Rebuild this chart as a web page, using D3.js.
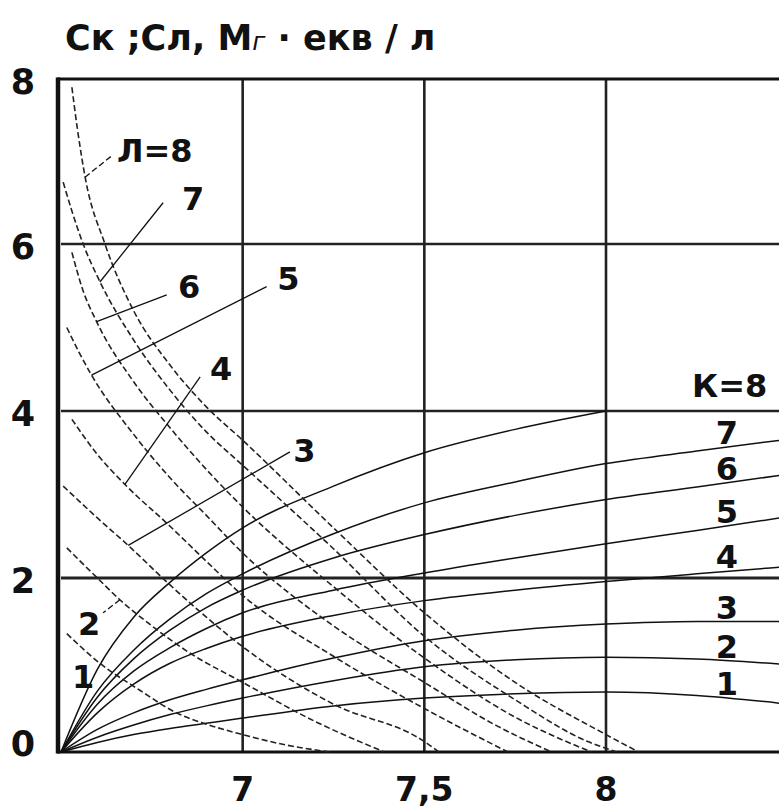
<!DOCTYPE html>
<html><head><meta charset="utf-8">
<script src="https://cdn.jsdelivr.net/npm/d3@7"></script>
<style>body{margin:0;background:#fff}svg{display:block}</style>
</head><body>
<svg id="c" width="779" height="810"></svg>
<script>
// ---- data ----
const xGridValues = [7, 7.5, 8];
const xTickLabels = ["7", "7,5", "8"];
const yGridValues = [2, 4, 6];
const yTickValues = [0, 2, 4, 6, 8];
const yTickLabels = ["0", "2", "4", "6", "8"];

// solid curves K (Ск), common pH points
const kX  = [6.5, 6.6, 6.7, 6.8, 6.9, 7.0, 7.25, 7.5, 7.75, 8.0, 8.25, 8.48];
const k1  = [0, 0.11, 0.20, 0.27, 0.33, 0.39, 0.53, 0.62, 0.67, 0.69, 0.65, 0.56];
const k2  = [0, 0.17, 0.31, 0.43, 0.53, 0.62, 0.82, 0.98, 1.06, 1.09, 1.07, 1.01];
const k3  = [0, 0.26, 0.45, 0.60, 0.72, 0.83, 1.08, 1.28, 1.40, 1.47, 1.50, 1.50];
const k4  = [0, 0.45, 0.78, 1.02, 1.19, 1.33, 1.57, 1.74, 1.86, 1.96, 2.05, 2.13];
const k5  = [0, 0.55, 0.93, 1.20, 1.42, 1.60, 1.86, 2.06, 2.24, 2.41, 2.57, 2.72];
const k6  = [0, 0.63, 1.07, 1.40, 1.66, 1.86, 2.24, 2.52, 2.75, 2.94, 3.09, 3.23];
const k7  = [0, 0.70, 1.17, 1.53, 1.82, 2.05, 2.53, 2.90, 3.15, 3.37, 3.52, 3.65];
const k8  = [0, 0.95, 1.55, 1.95, 2.30, 2.60, 3.10, 3.50, 3.78, 4.00];
const kSeries = [k1, k2, k3, k4, k5, k6, k7, k8];
const kNames = ["1", "2", "3", "4", "5", "6", "7", "8"];

// dashed curves Л (Сл): [pH, value] pairs
const l1 = [[6.516,1.36],[6.607,1.02],[6.717,0.71],[6.818,0.45],[6.9,0.32],[7.0,0.20],[7.12,0.08],[7.24,0]];
const l2 = [[6.516,2.36],[6.6,2.0],[6.662,1.75],[6.75,1.45],[6.85,1.15],[7.0,0.80],[7.2,0.35],[7.39,0]];
const l3 = [[6.506,3.1],[6.6,2.72],[6.685,2.39],[6.8,1.92],[6.9,1.55],[7.0,1.21],[7.25,0.55],[7.5,0.12],[7.54,0]];
const l4 = [[6.53,3.9],[6.6,3.48],[6.676,3.12],[6.8,2.62],[6.9,2.2],[7.0,1.8],[7.25,1.1],[7.5,0.5],[7.73,0]];
const l5 = [[6.516,5.0],[6.55,4.7],[6.584,4.43],[6.7,3.72],[6.8,3.2],[6.9,2.75],[7.0,2.3],[7.25,1.45],[7.5,0.8],[7.7,0.3],[7.85,0]];
const l6 = [[6.53,5.9],[6.56,5.45],[6.598,5.07],[6.7,4.35],[6.8,3.8],[6.9,3.3],[7.0,2.85],[7.25,1.9],[7.5,1.08],[7.75,0.4],[7.96,0]];
const l7 = [[6.506,6.75],[6.53,6.4],[6.561,6.0],[6.607,5.55],[6.7,4.85],[6.8,4.25],[6.9,3.75],[7.0,3.35],[7.25,2.35],[7.5,1.33],[7.75,0.6],[7.95,0.12],[8.03,0]];
const l8 = [[6.53,7.9],[6.545,7.4],[6.566,6.82],[6.621,6.0],[6.7,5.2],[6.8,4.55],[6.9,4.05],[7.0,3.65],[7.25,2.6],[7.5,1.6],[7.75,0.8],[8.0,0.2],[8.09,0]];
const lSeries = [l1, l2, l3, l4, l5, l6, l7, l8];

// annotation labels on the left (data coordinates): text, anchor, leader from/to, leader dashed
const leftLabels = [
  {t: "Л=8", at: [6.654, 6.99], from: [6.566, 6.81], to: [6.643, 7.08], dash: true},
  {t: "7", at: [6.833, 6.41], from: [6.607, 5.545], to: [6.781, 6.50], dash: false},
  {t: "6", at: [6.822, 5.35], from: [6.598, 5.07], to: [6.791, 5.39], dash: false},
  {t: "5", at: [7.095, 5.45], from: [6.584, 4.43], to: [7.066, 5.49], dash: false},
  {t: "4", at: [6.91, 4.37], from: [6.676, 3.12], to: [6.883, 4.41], dash: false},
  {t: "3", at: [7.139, 3.39], from: [6.685, 2.39], to: [7.13, 3.51], dash: false},
  {t: "2", at: [6.547, 1.34], from: [6.662, 1.75], to: [6.616, 1.60], dash: true},
  {t: "1", at: [6.53, 0.74], from: null, to: null, dash: false}
];
const kTitle = {t: "К=8", at: [8.237, 4.17]};
const kLabelX = 8.333;

const titleParts = ["Ск ;Сл, М", "г", " · екв / л"];

// ---- drawing ----
const W = 779, H = 810;
const svg = d3.select("#c");
svg.append("rect").attr("width", W).attr("height", H).attr("fill", "#fff");

const x = d3.scaleLinear().domain([6.5, 8]).range([61, 606]);
const y = d3.scaleLinear().domain([0, 2, 4, 6, 8]).range([752, 578, 411, 244, 79]);

const FONT = "'DejaVu Sans', 'Liberation Sans', Arial, sans-serif";

// grid
const g = svg.append("g");
g.selectAll("line.vg").data(xGridValues).join("line")
  .attr("x1", d => x(d)).attr("x2", d => x(d))
  .attr("y1", y(8)).attr("y2", y(0))
  .attr("stroke", "#222").attr("stroke-width", 2.6);
g.selectAll("line.hg").data(yGridValues).join("line")
  .attr("x1", x(6.5)).attr("x2", W)
  .attr("y1", d => y(d)).attr("y2", d => y(d))
  .attr("stroke", "#222").attr("stroke-width", d => d === 2 ? 3 : 2.6);

// frame: top, bottom, left axis
g.append("line").attr("x1", x(6.5) - 4).attr("x2", W).attr("y1", y(8)).attr("y2", y(8))
  .attr("stroke", "#111").attr("stroke-width", 3);
g.append("line").attr("x1", x(6.5) - 4).attr("x2", W).attr("y1", y(0)).attr("y2", y(0))
  .attr("stroke", "#111").attr("stroke-width", 3.2);
g.append("line").attr("x1", x(6.5) - 3).attr("x2", x(6.5) - 3).attr("y1", y(8) - 1.5).attr("y2", y(0) + 1.5)
  .attr("stroke", "#111").attr("stroke-width", 4.5);

// curves
const lineK = d3.line().x((d, i) => x(kX[i])).y(d => y(d)).curve(d3.curveMonotoneX);
svg.append("g").selectAll("path").data(kSeries).join("path")
  .attr("d", d => lineK(d))
  .attr("fill", "none").attr("stroke", "#111").attr("stroke-width", 1.5);

const lineL = d3.line().x(d => x(d[0])).y(d => y(d[1])).curve(d3.curveMonotoneX);
svg.append("g").selectAll("path").data(lSeries).join("path")
  .attr("d", d => lineL(d))
  .attr("fill", "none").attr("stroke", "#222").attr("stroke-width", 1.6)
  .attr("stroke-dasharray", "6,3");

// axis tick labels
svg.append("g").selectAll("text").data(yTickValues).join("text")
  .attr("x", 35).attr("y", d => y(d) + (d === 0 ? -8 : 3))
  .attr("text-anchor", "end").attr("dominant-baseline", "central")
  .attr("font-family", FONT).attr("font-weight", "bold").attr("font-size", 35)
  .attr("fill", "#111")
  .text((d, i) => yTickLabels[i]);

svg.append("g").selectAll("text").data(xGridValues).join("text")
  .attr("x", d => x(d)).attr("y", 801)
  .attr("text-anchor", "middle")
  .attr("font-family", FONT).attr("font-weight", "bold").attr("font-size", 33)
  .attr("fill", "#111")
  .text((d, i) => xTickLabels[i]);

// title
const title = svg.append("text").attr("x", 65).attr("y", 50)
  .attr("font-family", FONT).attr("font-weight", "bold").attr("font-size", 35).attr("fill", "#111");
title.append("tspan").text(titleParts[0]);
title.append("tspan").attr("font-style", "italic").attr("font-size", 25).attr("font-weight", "normal").text(titleParts[1]);
title.append("tspan").text(titleParts[2]);

// left annotations
const ann = svg.append("g");
leftLabels.forEach(a => {
  if (a.from) {
    ann.append("line")
      .attr("x1", x(a.from[0])).attr("y1", y(a.from[1]))
      .attr("x2", x(a.to[0])).attr("y2", y(a.to[1]))
      .attr("stroke", "#111").attr("stroke-width", 1.3)
      .attr("stroke-dasharray", a.dash ? "6,3" : null);
  }
  ann.append("text").attr("x", x(a.at[0])).attr("y", y(a.at[1]))
    .attr("font-family", FONT).attr("font-weight", "bold").attr("font-size", 32).attr("fill", "#111")
    .text(a.t);
});

// right labels for K curves
function valueAt(series, xv) {
  for (let i = 0; i < series.length - 1; i++) {
    if (xv >= kX[i] && xv <= kX[i + 1]) {
      const t = (xv - kX[i]) / (kX[i + 1] - kX[i]);
      return series[i] + t * (series[i + 1] - series[i]);
    }
  }
  return series[series.length - 1];
}
svg.append("g").selectAll("text").data(kSeries.slice(0, 7)).join("text")
  .attr("x", x(kLabelX)).attr("y", d => y(valueAt(d, kLabelX)) - 3)
  .attr("text-anchor", "middle")
  .attr("font-family", FONT).attr("font-weight", "bold").attr("font-size", 32).attr("fill", "#111")
  .text((d, i) => kNames[i]);
svg.append("text").attr("x", x(kTitle.at[0])).attr("y", y(kTitle.at[1]))
  .attr("font-family", FONT).attr("font-weight", "bold").attr("font-size", 32).attr("fill", "#111")
  .text(kTitle.t);
</script>
</body></html>
